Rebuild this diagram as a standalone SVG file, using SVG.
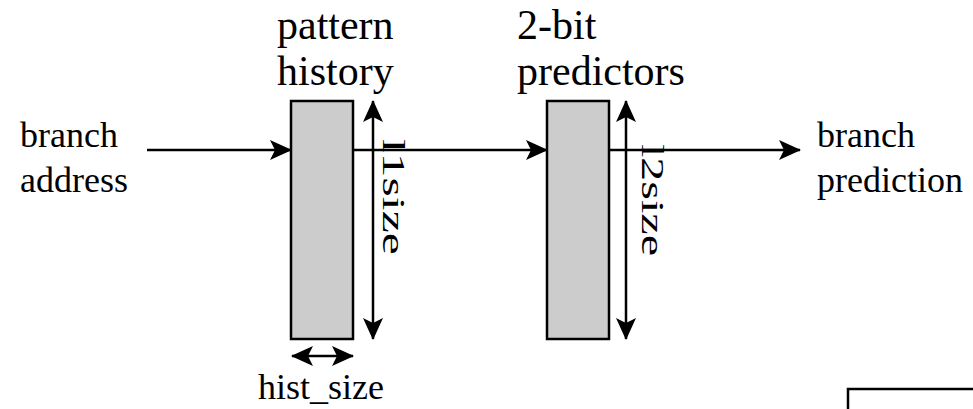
<svg xmlns="http://www.w3.org/2000/svg" width="973" height="409" viewBox="0 0 973 409">
<style>
text{font-family:"Liberation Serif","Times New Roman",serif;font-size:36px;fill:#000}
.big{font-size:42px}
.vert{font-size:32px}
.box{fill:#cccccc;stroke:#000;stroke-width:2.5}
.ln{fill:none;stroke:#000;stroke-width:2.5}
</style>
<defs>
<marker id="ah" viewBox="0 0 22 20" refX="21" refY="10" markerWidth="22" markerHeight="20" orient="auto-start-reverse" markerUnits="userSpaceOnUse">
<path d="M0,0 L22,10 L0,20 L5,10 z" fill="#000"/>
</marker>
</defs>
<rect width="973" height="409" fill="#fff"/>
<g id="label-branch-address"><text x="20" y="147">branch</text><text x="20" y="192">address</text></g>
<g id="pattern-history">
<text class="big" x="277" y="39">pattern</text><text class="big" x="277" y="85">history</text>
<rect class="box" x="291" y="101" width="62" height="238"/>
</g>
<g id="predictors">
<text class="big" x="517" y="39">2-bit</text><text class="big" x="517" y="85">predictors</text>
<rect class="box" x="547" y="101" width="62" height="238"/>
</g>
<g id="label-branch-prediction"><text x="817" y="147">branch</text><text x="817" y="192">prediction</text></g>
<g id="dims">
<text class="vert" transform="translate(383,139) rotate(90) scale(1.55,1)">l1size</text>
<text class="vert" transform="translate(642,144) rotate(90) scale(1.5,1)">l2size</text>
<text x="258" y="399">hist_size</text>
</g>
<g id="connectors">
<line class="ln" x1="147" y1="150" x2="291" y2="150" marker-end="url(#ah)"/>
<line class="ln" x1="353" y1="150" x2="547" y2="150" marker-end="url(#ah)"/>
<line class="ln" x1="609" y1="150" x2="800" y2="150" marker-end="url(#ah)"/>
<line class="ln" x1="373" y1="101" x2="373" y2="339" marker-start="url(#ah)" marker-end="url(#ah)"/>
<line class="ln" x1="626" y1="101" x2="626" y2="339" marker-start="url(#ah)" marker-end="url(#ah)"/>
<line class="ln" x1="292" y1="356" x2="353" y2="356" marker-start="url(#ah)" marker-end="url(#ah)"/>
</g>
<g id="corner-box"><path class="ln" d="M848,409 V389 H975"/></g>
</svg>
